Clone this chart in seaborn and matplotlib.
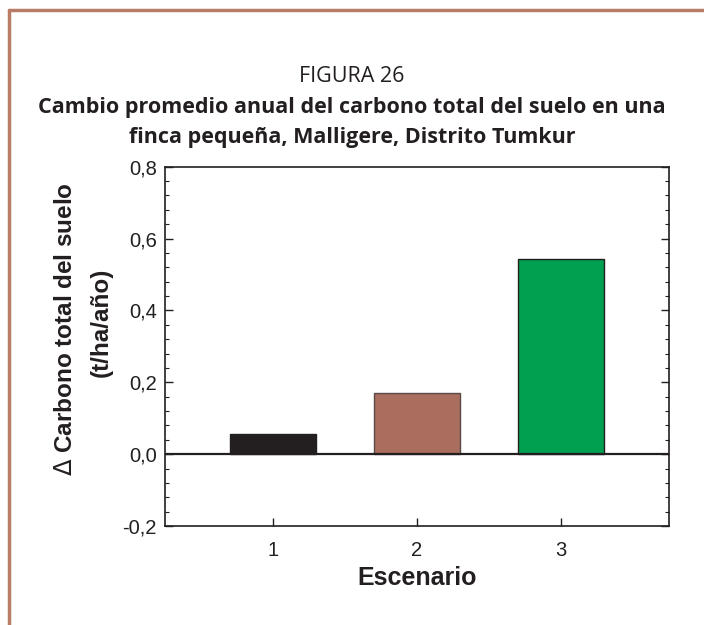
import numpy as np
import pandas as pd
import seaborn as sns
import matplotlib.pyplot as plt
from matplotlib.ticker import MultipleLocator, FuncFormatter
from matplotlib.lines import Line2D

sns.set_style('white')
plt.rcParams['font.family'] = ['Liberation Sans', 'DejaVu Sans']
plt.rcParams['mathtext.fontset'] = 'dejavusans'

# datos
escenarios = ['1', '2', '3']
delta_carbono = [0.056, 0.169, 0.544]
colores = ['#231f20', '#a96e5e', '#00a050']
bordes = ['#231f20', '#5a4a45', '#231f20']

df = pd.DataFrame({'Escenario': escenarios, 'delta': delta_carbono})

fig = plt.figure(figsize=(7.04, 6.25), dpi=100)
ax = fig.add_axes([165 / 704, 99 / 625, 504 / 704, 359.3 / 625])

sns.barplot(data=df, x='Escenario', y='delta', hue='Escenario', palette=colores,
            width=0.6, legend=False, ax=ax, saturation=1)
for patch, ec in zip(ax.patches, bordes):
    patch.set_edgecolor(ec)
    patch.set_linewidth(1.0)

ax.axhline(0, color='#231f20', lw=1.6, zorder=3)
ax.set_xlim(-0.75, 2.75)
ax.set_ylim(-0.2, 0.8)
ax.yaxis.set_major_locator(MultipleLocator(0.2))
ax.yaxis.set_minor_locator(MultipleLocator(0.04))
ax.yaxis.set_major_formatter(FuncFormatter(lambda v, p: f'{v:.1f}'.replace('.', ',')))
ax.tick_params(axis='y', which='both', direction='in', left=True, right=True,
               labelsize=14.5, colors='#231f20', pad=6)
ax.tick_params(axis='y', which='major', length=5.5, width=1)
ax.tick_params(axis='y', which='minor', length=3, width=0.8)
ax.tick_params(axis='x', which='major', direction='in', bottom=True, length=5.5,
               width=1, labelsize=14.5, colors='#231f20', pad=11)
for s in ax.spines.values():
    s.set_color('#231f20')
    s.set_linewidth(1.2)

ax.set_xlabel('Escenario', fontsize=18, fontweight='bold', color='#231f20', labelpad=4)
ax.set_ylabel('')

fig.text(66 / 704, 1 - 329 / 625, '$\\Delta$ Carbono total del suelo', rotation=90, fontsize=17.5,
         fontweight='bold', color='#231f20', ha='center', va='center')
fig.text(101 / 704, 1 - 322 / 625, '(t/ha/año)', rotation=90, fontsize=17.5,
         fontweight='bold', color='#231f20', ha='center', va='center')

titulo_fuente = ['Open Sans', 'DejaVu Sans']
fig.text(0.5, 1 - 76 / 625, 'FIGURA 26', fontsize=15.5, family=titulo_fuente,
         color='#231f20', ha='center', va='center')
fig.text(0.5, 1 - 108 / 625, 'Cambio promedio anual del carbono total del suelo en una',
         fontsize=15.5, fontweight='bold', family=titulo_fuente,
         color='#231f20', ha='center', va='center')
fig.text(0.5, 1 - 137 / 625, 'finca pequeña, Malligere, Distrito Tumkur',
         fontsize=15.5, fontweight='bold', family=titulo_fuente,
         color='#231f20', ha='center', va='center')

# marco del recuadro
borde = '#b97d67'
fig.add_artist(Line2D([9 / 704, 1], [1 - 10 / 625, 1 - 10 / 625], transform=fig.transFigure,
                      color=borde, lw=2.5))
fig.add_artist(Line2D([9 / 704, 9 / 704], [0, 1 - 10 / 625], transform=fig.transFigure,
                      color=borde, lw=2.5))

fig.savefig('out.png', dpi=100)
